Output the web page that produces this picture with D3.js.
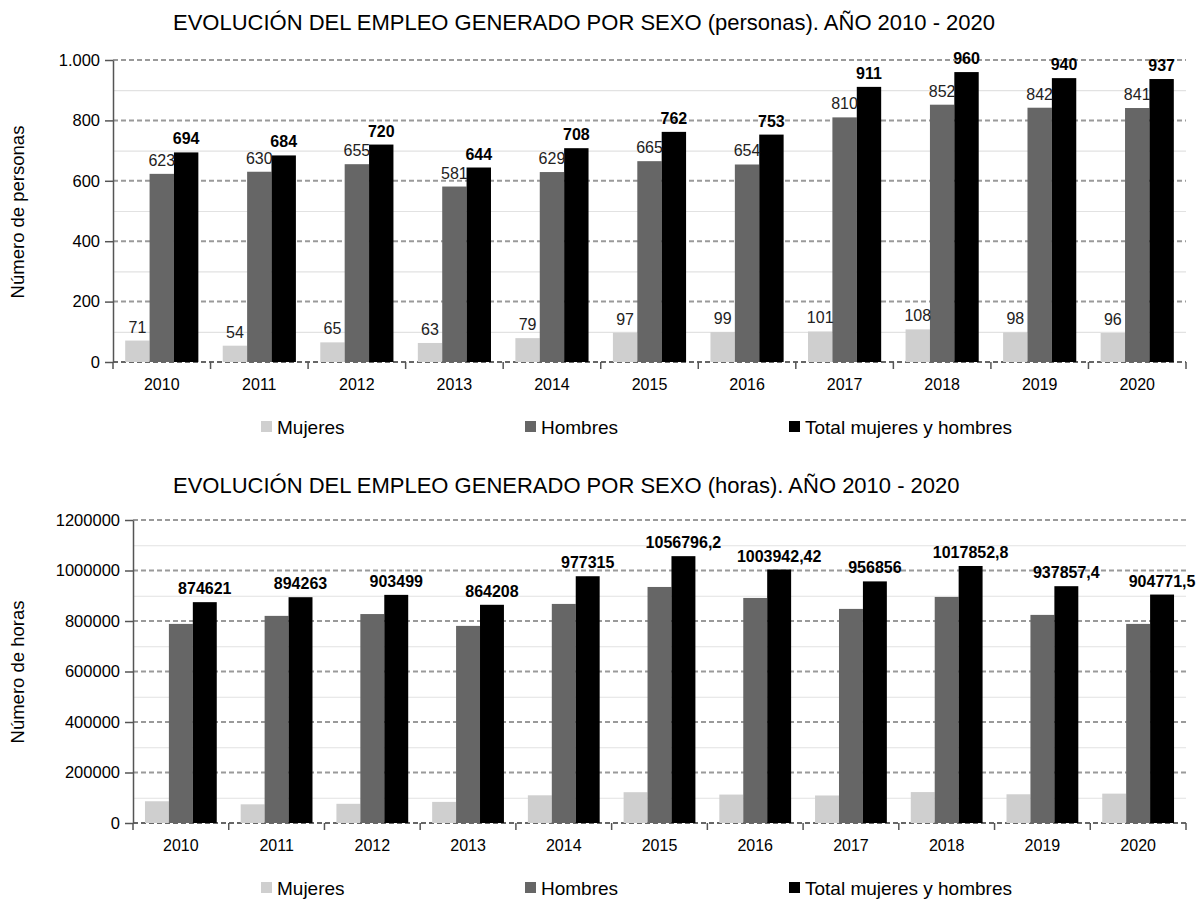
<!DOCTYPE html>
<html lang="es">
<head>
<meta charset="utf-8">
<title>Evolución del empleo generado por sexo 2010 - 2020</title>
<script src="https://cdn.jsdelivr.net/npm/d3@7/dist/d3.min.js"></script>
<style>
  html, body { margin: 0; padding: 0; background: #ffffff; }
  svg { display: block; font-family: "Liberation Sans", Arial, Helvetica, sans-serif; }
  .axis path, .axis line { stroke: #555555; }
  .axis text { fill: #000000; }
</style>
</head>
<body>
<svg id="chart" width="1204" height="900"></svg>
<script>
// Years on the category axis
const years = ["2010", "2011", "2012", "2013", "2014", "2015", "2016", "2017", "2018", "2019", "2020"];

// Series names shown in the legends
const seriesNames = ["Mujeres", "Hombres", "Total mujeres y hombres"];

// Employment generated, number of persons
const personasMujeres = [71, 54, 65, 63, 79, 97, 99, 101, 108, 98, 96];
const personasHombres = [623, 630, 655, 581, 629, 665, 654, 810, 852, 842, 841];
const personasTotal   = [694, 684, 720, 644, 708, 762, 753, 911, 960, 940, 937];

// Employment generated, number of hours
const horasMujeres = [86100, 74000, 76000, 83600, 109700, 122000, 112600, 109000, 122500, 113700, 116300];
const horasHombres = [788500, 820300, 827500, 780600, 867600, 934800, 891300, 847900, 895300, 824200, 788500];
const horasTotal   = [874621, 894263, 903499, 864208, 977315, 1056796.2, 1003942.42, 956856, 1017852.8, 937857.4, 904771.5];

// Axis ticks
const personasTicks = [0, 200, 400, 600, 800, 1000];
const personasMinorTicks = [100, 300, 500, 700, 900];
const horasTicks = [0, 200000, 400000, 600000, 800000, 1000000, 1200000];
const horasMinorTicks = [100000, 300000, 500000, 700000, 900000, 1100000];

const colors = ["#cfcfcf", "#666666", "#000000"];

const esLocale = d3.formatLocale({ decimal: ",", thousands: ".", grouping: [3], currency: ["", " €"] });
const fmtThousands = esLocale.format(",d");
const fmtPlain = v => String(v).replace(".", ",");

const svg = d3.select("#chart");

function drawPanel(cfg) {
  const g = svg.append("g");

  const y = d3.scaleLinear().domain([0, cfg.yMax]).range([cfg.bottom, cfg.top]);
  const x0 = d3.scaleBand().domain(years).range([cfg.left, cfg.right]).paddingInner(0).paddingOuter(0);
  const x1 = d3.scaleBand().domain(seriesNames).range([0, x0.bandwidth()]).paddingInner(0).paddingOuter(0.5);

  // Title
  g.append("text")
    .attr("x", 173).attr("y", cfg.titleY)
    .attr("font-size", 22)
    .attr("fill", "#000")
    .text(cfg.title);

  // Minor gridlines
  g.append("g").selectAll("line").data(cfg.minorTicks).join("line")
    .attr("x1", cfg.left).attr("x2", cfg.right)
    .attr("y1", d => y(d) + 0.5).attr("y2", d => y(d) + 0.5)
    .attr("stroke", "#e2e2e2").attr("stroke-width", 1.2);

  // Major gridlines (dashed)
  g.append("g").selectAll("line").data(cfg.ticks).join("line")
    .attr("x1", cfg.left).attr("x2", cfg.right)
    .attr("y1", d => y(d)).attr("y2", d => y(d))
    .attr("stroke", d => d === 0 ? "#666666" : "#9a9a9a")
    .attr("stroke-width", 2)
    .attr("stroke-dasharray", "5,3");

  // Bars
  const rows = years.map((yr, i) => ({ year: yr, values: cfg.series.map(s => s[i]) }));
  const groups = g.append("g").selectAll("g").data(rows).join("g")
    .attr("transform", d => `translate(${x0(d.year)},0)`);

  groups.selectAll("rect")
    .data(d => d.values.map((v, k) => ({ key: seriesNames[k], k, v })))
    .join("rect")
    .attr("x", d => x1(d.key))
    .attr("width", x1.bandwidth())
    .attr("y", d => y(d.v))
    .attr("height", d => y(0) - y(d.v))
    .attr("fill", d => colors[d.k]);

  // Value labels
  groups.selectAll("text.val")
    .data(d => d.values.map((v, k) => ({ key: seriesNames[k], k, v })).filter(d => cfg.labelSeries.includes(d.k)))
    .join("text")
    .attr("class", "val")
    .attr("x", d => x1(d.key) + x1.bandwidth() / 2)
    .attr("y", d => y(d.v) - 8)
    .attr("text-anchor", "middle")
    .attr("font-size", 16)
    .attr("font-weight", d => d.k === 2 ? "bold" : "normal")
    .attr("fill", d => d.k === 2 ? "#000" : "#222")
    .text(d => cfg.labelFormat(d.v));

  // Y axis
  const yAxis = g.append("g").attr("class", "axis")
    .attr("transform", `translate(${cfg.left},0)`)
    .call(d3.axisLeft(y).tickValues(cfg.ticks).tickFormat(cfg.tickFormat).tickSize(8).tickPadding(5).tickSizeOuter(0));
  yAxis.select(".domain").attr("stroke-width", 1.5);
  yAxis.selectAll(".tick line").attr("stroke-width", 1.5);
  yAxis.selectAll("text").attr("font-size", 16.5);

  // X axis: ticks on category boundaries, labels centred in each band
  const bounds = years.map(yr => x0(yr)).concat([cfg.right]);
  g.append("g").selectAll("line").data(bounds).join("line")
    .attr("x1", d => d).attr("x2", d => d)
    .attr("y1", cfg.bottom).attr("y2", cfg.bottom + 7)
    .attr("stroke", "#555555").attr("stroke-width", 1.5);

  g.append("g").selectAll("text").data(years).join("text")
    .attr("x", d => x0(d) + x0.bandwidth() / 2)
    .attr("y", cfg.bottom + 28)
    .attr("text-anchor", "middle")
    .attr("font-size", 16)
    .attr("fill", "#000")
    .text(d => d);

  // Y axis title
  g.append("text")
    .attr("transform", `translate(24,${cfg.yTitleY}) rotate(-90)`)
    .attr("text-anchor", "middle")
    .attr("font-size", 18.5)
    .attr("fill", "#000")
    .text(cfg.yTitle);

  // Legend
  const legendX = [261, 525, 789];
  const leg = g.append("g").selectAll("g").data(seriesNames).join("g")
    .attr("transform", (d, i) => `translate(${legendX[i]},${cfg.legendY})`);
  leg.append("rect")
    .attr("x", 0).attr("y", -13).attr("width", 11).attr("height", 11)
    .attr("fill", (d, i) => colors[i]);
  leg.append("text")
    .attr("x", 16).attr("y", 0)
    .attr("font-size", 19)
    .attr("fill", "#000")
    .text(d => d);
}

drawPanel({
  title: "EVOLUCIÓN DEL EMPLEO GENERADO POR SEXO (personas). AÑO 2010 - 2020",
  titleY: 30,
  left: 113, right: 1186, top: 60, bottom: 362,
  yMax: 1000,
  ticks: personasTicks, minorTicks: personasMinorTicks,
  tickFormat: d => fmtThousands(d),
  series: [personasMujeres, personasHombres, personasTotal],
  labelSeries: [0, 1, 2],
  labelFormat: v => fmtThousands(v),
  yTitle: "Número de personas", yTitleY: 212,
  legendY: 434
});

drawPanel({
  title: "EVOLUCIÓN DEL EMPLEO GENERADO POR SEXO (horas). AÑO 2010 - 2020",
  titleY: 493,
  left: 133, right: 1186, top: 520, bottom: 823,
  yMax: 1200000,
  ticks: horasTicks, minorTicks: horasMinorTicks,
  tickFormat: d => String(d),
  series: [horasMujeres, horasHombres, horasTotal],
  labelSeries: [2],
  labelFormat: v => fmtPlain(v),
  yTitle: "Número de horas", yTitleY: 672,
  legendY: 895
});
</script>
</body>
</html>
